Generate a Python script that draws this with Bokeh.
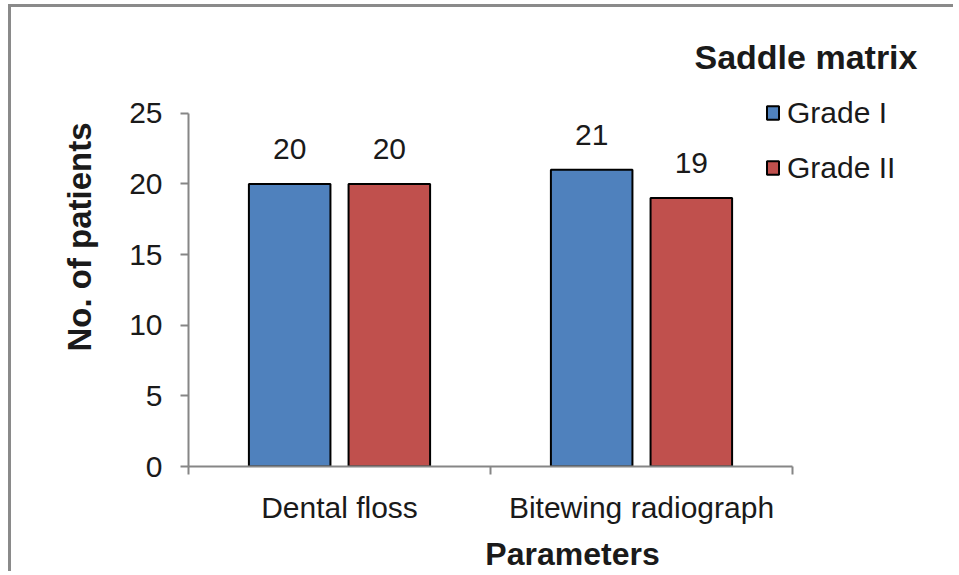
from bokeh.plotting import figure
from bokeh.models import (ColumnDataSource, FixedTicker, Legend, LegendItem, Label, Range1d)
from bokeh.transform import dodge
from bokeh.core.properties import value
from bokeh.embed import file_html
from bokeh.resources import INLINE

# ---- data ----
categories = ["Dental floss", "Bitewing radiograph"]
grade_1 = [20, 21]
grade_2 = [20, 19]
series_names = ["Grade I", "Grade II"]
legend_title = "Saddle matrix"
y_ticks = [0, 5, 10, 15, 20, 25]
x_title = "Parameters"
y_title = "No. of patients"

FONT = "Liberation Sans"
TXT = "#1a1a1a"
AX = "#868686"
BLUE = "#4F81BD"
RED = "#C0504D"

W, H = 945, 567
LEFT, BOTTOM = 177, 107
FRAME_W = W - LEFT
FRAME_H = H - BOTTOM
AXIS_PX_X = 604   # pixels covered by the categories
AXIS_PX_Y = 354   # pixels covered by 0..25
n = len(categories)
y_max = max(y_ticks)

centers = [i + 0.5 for i in range(n)]
src = ColumnDataSource(dict(x=centers, g1=grade_1, g2=grade_2,
                            g1s=[str(v) for v in grade_1], g2s=[str(v) for v in grade_2]))

p = figure(width=W, height=H, output_backend="svg", toolbar_location=None,
           x_range=Range1d(0, n * FRAME_W / AXIS_PX_X),
           y_range=Range1d(0, y_max * FRAME_H / AXIS_PX_Y),
           min_border_left=LEFT, min_border_right=0, min_border_top=0, min_border_bottom=BOTTOM)
p.styles = {"border-left": "3px solid #8a8a8a", "border-top": "3px solid #8a8a8a",
            "margin-top": "4px", "margin-left": "8px"}
p.outline_line_color = None
p.xgrid.visible = False
p.ygrid.visible = False

off = 0.165
bw = 0.27
r1 = p.vbar(x=dodge("x", -off, range=p.x_range), top="g1", width=bw, source=src,
            fill_color=BLUE, line_color="black", line_width=2)
r2 = p.vbar(x=dodge("x", off, range=p.x_range), top="g2", width=bw, source=src,
            fill_color=RED, line_color="black", line_width=2)

for col, o in (("g1", -off), ("g2", off)):
    p.text(x=dodge("x", o, range=p.x_range), y=col, text=col + "s", source=src,
           text_align="center", text_baseline="alphabetic", y_offset=-35,
           text_font=value(FONT), text_font_size="30px", text_color=TXT)

# y axis
ya = p.yaxis[0]
ya.ticker = FixedTicker(ticks=y_ticks)
ya.bounds = (0, y_max)
ya.axis_line_color = AX
ya.axis_line_width = 2
ya.major_tick_line_color = AX
ya.major_tick_line_width = 2
ya.major_tick_out = 8
ya.major_tick_in = 0
ya.minor_tick_line_color = None
ya.major_label_text_font = FONT
ya.major_label_text_font_size = "30px"
ya.major_label_text_color = TXT
ya.major_label_standoff = 18
ya.axis_label = y_title
ya.axis_label_text_font = FONT
ya.axis_label_text_font_size = "33px"
ya.axis_label_text_font_style = "bold"
ya.axis_label_text_color = TXT
ya.axis_label_standoff = 28

# x axis
xa = p.xaxis[0]
xa.ticker = FixedTicker(ticks=centers, minor_ticks=list(range(n + 1)))
xa.bounds = (0, n)
xa.major_label_overrides = {c: name for c, name in zip(centers, categories)}
xa.axis_line_color = AX
xa.axis_line_width = 2
xa.major_tick_line_color = None
xa.major_tick_out = 0
xa.major_tick_in = 0
xa.minor_tick_line_color = AX
xa.minor_tick_line_width = 2
xa.minor_tick_out = 8
xa.minor_tick_in = 0
xa.major_label_text_font = FONT
xa.major_label_text_font_size = "30px"
xa.major_label_text_color = TXT
xa.major_label_standoff = 16
xa.axis_label = x_title
xa.axis_label_text_font = FONT
xa.axis_label_text_font_size = "32px"
xa.axis_label_text_font_style = "bold"
xa.axis_label_text_color = TXT
xa.axis_label_standoff = 9

legend = Legend(items=[LegendItem(label=series_names[0], renderers=[r1]),
                       LegendItem(label=series_names[1], renderers=[r2])],
                location=(577, 281))
legend.glyph_width = 15
legend.glyph_height = 17
legend.label_standoff = 7
legend.label_text_font = FONT
legend.label_text_font_size = "30px"
legend.label_text_color = TXT
legend.label_height = 35
legend.spacing = 20
legend.padding = 0
legend.margin = 0
legend.border_line_color = None
legend.background_fill_alpha = 0
p.add_layout(legend, "center")

p.add_layout(Label(x=506, y=410, x_units="screen", y_units="screen", text=legend_title,
                   text_font=FONT, text_font_size="34px", text_font_style="bold",
                   text_color=TXT, text_baseline="alphabetic", text_align="left"))

open("out.html", "w").write(file_html(p, INLINE))
